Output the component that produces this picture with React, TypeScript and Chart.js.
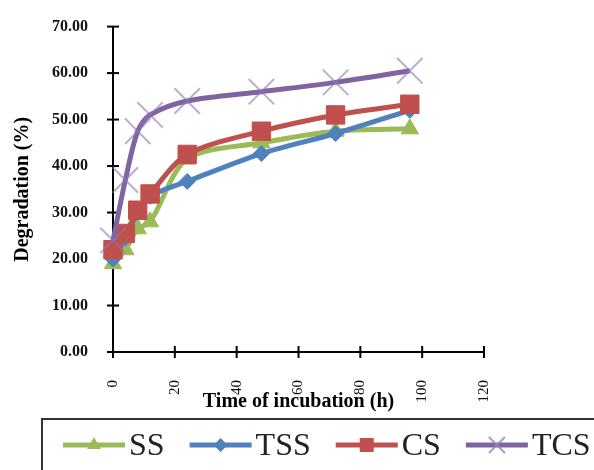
import React, { useEffect, useRef } from "react";
import { Chart, registerables } from "chart.js";

Chart.register(...registerables);

const hours = [0, 4, 8, 12, 24, 48, 72, 96];
const seriesNames = ["SS", "TSS", "CS", "TCS"];
const ssValues = [19, 22, 26.5, 28, 41.5, 45, 47.5, 48];
const tssValues = [20, 24.5, 30, 33.5, 36.7, 42.7, 47, 52];
const csValues = [22, 25.5, 30.5, 34, 42.5, 47.5, 51, 53.3];
const tcsValues = [24, 37, 47.5, 51, 54, 56, 58, 60.5];
const xTitle = "Time of incubation (h)";
const yTitle = "Degradation (%)";

const colors = ["#9BBB59", "#4F81BD", "#C0504D", "#8064A2"];
const FONT = "'Liberation Serif', 'Times New Roman', serif";

function drawMarker(ctx: CanvasRenderingContext2D, kind: number, x: number, y: number) {
  ctx.save();
  ctx.fillStyle = colors[kind];
  ctx.strokeStyle = colors[kind];
  ctx.beginPath();
  if (kind === 0) {
    const r = 8;
    ctx.moveTo(x, y - r);
    ctx.lineTo(x + r * 0.866, y + r * 0.5);
    ctx.lineTo(x - r * 0.866, y + r * 0.5);
    ctx.closePath();
    ctx.fill();
  } else if (kind === 1) {
    const r = 7;
    ctx.moveTo(x, y - r);
    ctx.lineTo(x + r, y);
    ctx.lineTo(x, y + r);
    ctx.lineTo(x - r, y);
    ctx.closePath();
    ctx.fill();
  } else if (kind === 2) {
    ctx.rect(x - 7, y - 7, 14, 14);
    ctx.fill();
  } else {
    const r = 8;
    ctx.strokeStyle = "rgba(150,130,190,0.8)";
    ctx.lineWidth = 2;
    ctx.moveTo(x - r, y - r);
    ctx.lineTo(x + r, y + r);
    ctx.moveTo(x + r, y - r);
    ctx.lineTo(x - r, y + r);
    ctx.stroke();
  }
  ctx.restore();
}

const crossTicks = {
  id: "crossTicks",
  beforeDatasetsDraw(chart: any) {
    const { ctx, scales } = chart;
    const xs = scales.x;
    const ys = scales.y;
    ctx.save();
    ctx.strokeStyle = "#000";
    ctx.lineWidth = 2;
    const axisX = xs.getPixelForValue(0);
    const axisY = ys.getPixelForValue(0);
    ys.ticks.forEach((t: any) => {
      const p = ys.getPixelForValue(t.value);
      ctx.beginPath();
      ctx.moveTo(axisX - 6, p);
      ctx.lineTo(axisX + 6, p);
      ctx.stroke();
    });
    xs.ticks.forEach((t: any) => {
      const p = xs.getPixelForValue(t.value);
      ctx.beginPath();
      ctx.moveTo(p, axisY - 6);
      ctx.lineTo(p, axisY + 6);
      ctx.stroke();
    });
    ctx.restore();
  },
};

const boxLegend = {
  id: "boxLegend",
  afterDraw(chart: any) {
    const ctx: CanvasRenderingContext2D = chart.ctx;
    ctx.save();
    ctx.strokeStyle = "#333";
    ctx.lineWidth = 2;
    ctx.strokeRect(42, 419, 620, 100);
    ctx.font = `32px ${FONT}`;
    ctx.textBaseline = "middle";
    ctx.textAlign = "left";
    let x = 63;
    const y = 445;
    seriesNames.forEach((name, i) => {
      ctx.strokeStyle = colors[i];
      ctx.lineWidth = 5;
      ctx.beginPath();
      ctx.moveTo(x, y);
      ctx.lineTo(x + 62, y);
      ctx.stroke();
      drawMarker(ctx, i, x + 31, y);
      ctx.fillStyle = "#222";
      ctx.fillText(name, x + 66, y + 2);
      x += 66 + ctx.measureText(name).width + 25;
    });
    ctx.restore();
  },
};

export default function App() {
  const ref = useRef<HTMLCanvasElement | null>(null);
  useEffect(() => {
    if (!ref.current) return;
    const allValues = [ssValues, tssValues, csValues, tcsValues];
    const pointStyles = ["triangle", "rectRot", "rect", "crossRot"];
    const radii = [10, 8, 13, 18];
    const orders = [4, 3, 2, 1];
    const datasets = allValues.map((vals, i) => ({
      label: seriesNames[i],
      data: hours.map((h, j) => ({ x: h, y: vals[j] })),
      borderColor: colors[i],
      backgroundColor: colors[i],
      borderWidth: 5,
      tension: 0.3,
      pointStyle: pointStyles[i],
      pointRadius: radii[i],
      pointBackgroundColor: i === 3 ? "rgba(0,0,0,0)" : colors[i],
      pointBorderColor: i === 3 ? "rgba(140,120,180,0.6)" : colors[i],
      pointBorderWidth: i === 3 ? 2 : 1,
      order: orders[i],
      clip: false as any,
    }));
    const chart = new Chart(ref.current, {
      type: "line",
      data: { datasets },
      plugins: [crossTicks, boxLegend],
      options: {
        animation: false,
        responsive: false,
        layout: { padding: { left: 11, right: 110, top: 24, bottom: 56 } },
        plugins: { legend: { display: false }, tooltip: { enabled: false } },
        scales: {
          x: {
            type: "linear",
            min: 0,
            max: 120,
            grid: { display: false },
            border: { display: true, color: "#000", width: 2 },
            ticks: {
              stepSize: 20,
              minRotation: 90,
              maxRotation: 90,
              padding: 20,
              color: "#111",
              font: { family: FONT, size: 15 },
            },
            title: {
              display: true,
              text: xTitle,
              color: "#000",
              padding: { top: 0, bottom: 0 },
              font: { family: FONT, size: 20, weight: "bold" },
            },
            afterFit: (s: any) => {
              s.height = 62;
            },
          },
          y: {
            type: "linear",
            min: 0,
            max: 70,
            grid: { display: false },
            border: { display: true, color: "#000", width: 2 },
            ticks: {
              stepSize: 10,
              padding: 17,
              color: "#111",
              font: { family: FONT, size: 16, weight: "bold" },
              callback: (v: any) => Number(v).toFixed(2),
            },
            title: {
              display: true,
              text: yTitle,
              color: "#000",
              padding: { top: 0, bottom: 0 },
              font: { family: FONT, size: 20, weight: "bold" },
            },
            afterFit: (s: any) => {
              s.width = 102;
            },
          },
        },
      },
    });
    return () => chart.destroy();
  }, []);
  return (
    <div style={{ position: "absolute", left: 0, top: 0, width: 594, height: 470, background: "#fff" }}>
      <canvas ref={ref} width={594} height={470} />
    </div>
  );
}
